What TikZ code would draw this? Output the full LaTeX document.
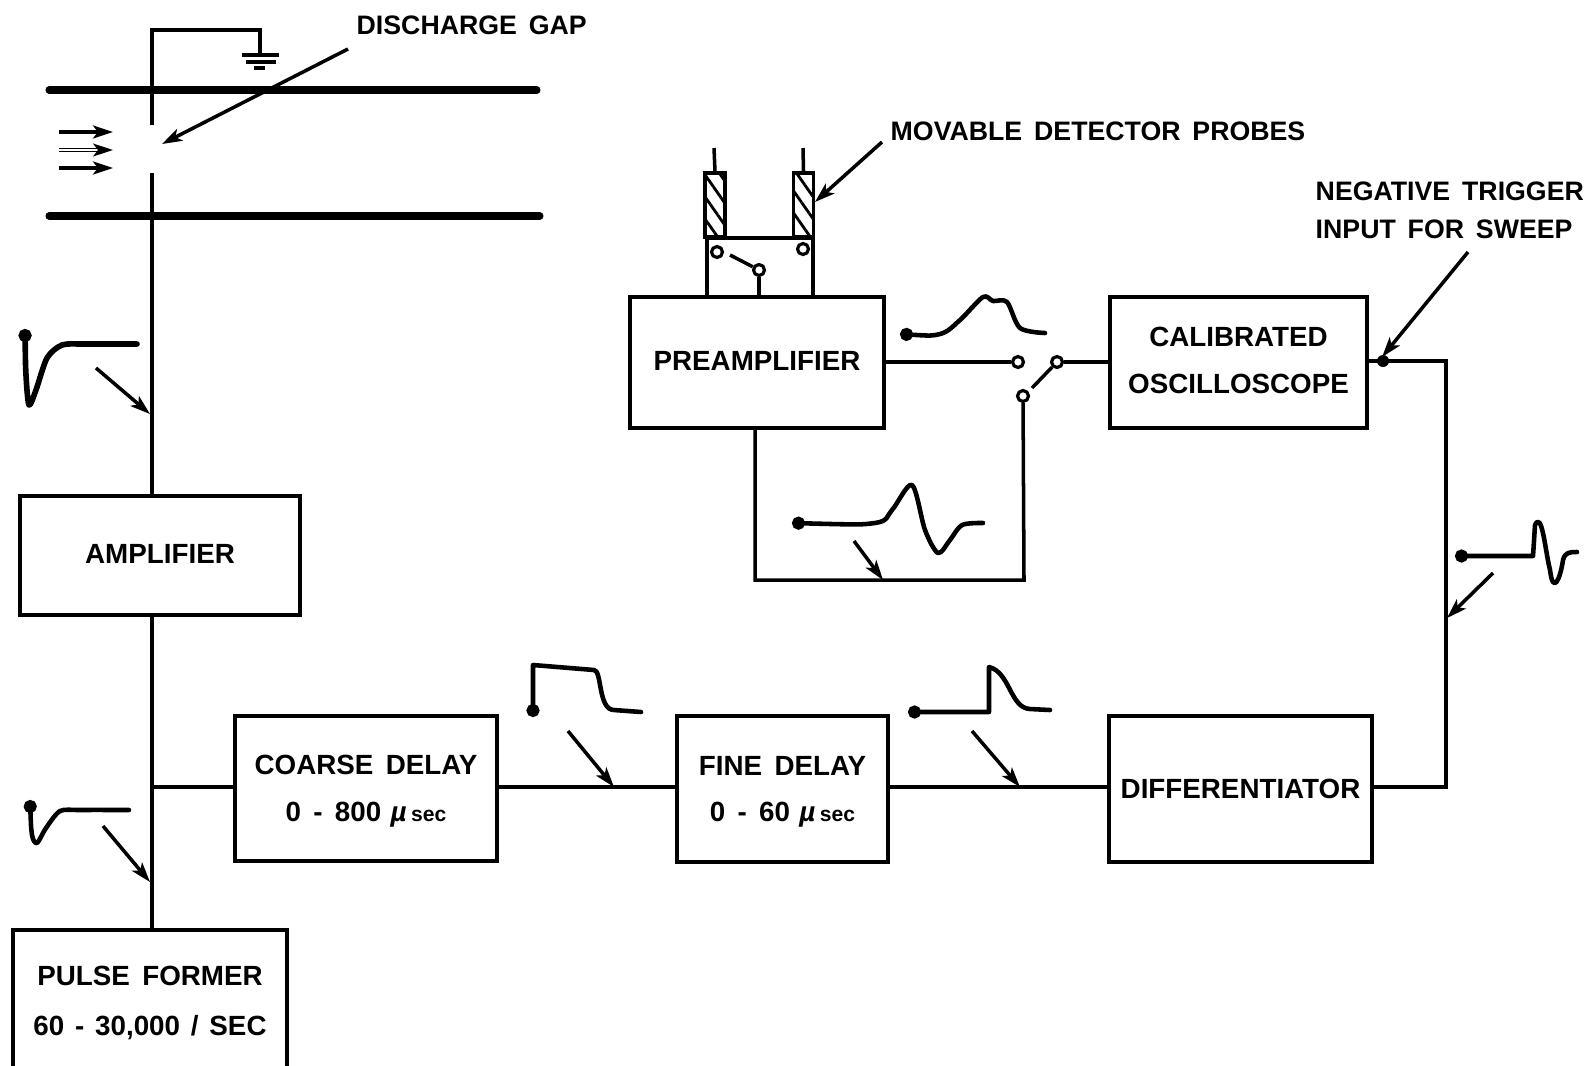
\documentclass[tikz,border=0pt]{standalone}
\usepackage{fontspec}
\setmainfont{Liberation Sans}[WordSpace=1.6]
\usetikzlibrary{arrows.meta,patterns.meta}
\newcommand{\labelfont}{\fontsize{7.9}{13.3}\selectfont\bfseries}
\newcommand{\notefont}{\fontsize{7.6}{10.9}\selectfont\bfseries}
\newcommand{\usec}{\,\,\textit{µ}\,{\fontsize{6}{6}\selectfont sec}}

\begin{document}
\begin{tikzpicture}[
        box/.style={
            draw,
            line width=1pt,
            align=center,
            text depth=.04cm,
            font=\labelfont
        },
        note/.style={
            anchor=west,
            inner sep=0pt,
            align=left,
            font=\notefont
        },
        terminal/.style={
            draw,
            circle,
            fill=white,
            line width=.9pt,
            minimum size=.11cm,
            inner sep=0pt
        },
        probe/.style={
            draw,
            line width=.9pt,
            minimum width=.2cm,
            minimum height=.64cm,
            inner sep=0pt,
            pattern={Lines[angle=-55,distance=3.6pt,line width=.8pt]}
        },
        junction/.style={
            circle,
            fill,
            minimum size=.12cm,
            inner sep=0pt
        },
        wire/.style={line width=1pt},
        beam/.style={line width=2pt, line cap=round},
        pointer/.style={line width=1pt, -{Stealth[length=.2cm,width=.13cm,inset=.05cm]}},
        wave/.style={line width=1.3pt, line cap=round, line join=round, {Circle[length=.13cm]}-}
    ]
        \path[use as bounding box, clip] (0,0) rectangle (15.91,-10.65);

        % Blocks
        \node[box, minimum width=2.54cm, minimum height=1.31cm] (pre) at (7.57,-3.625) {PREAMPLIFIER};
        \node[box, minimum width=2.57cm, minimum height=1.31cm] (scope) at (12.385,-3.625) {CALIBRATED\\OSCILLOSCOPE};
        \node[box, minimum width=2.8cm, minimum height=1.19cm] (amp) at (1.6,-5.555) {AMPLIFIER};
        \node[box, text depth=0pt, minimum width=2.62cm, minimum height=1.45cm] (coarse) at (3.66,-7.885) {COARSE DELAY\\0 - 800\usec};
        \node[box, text depth=0pt, minimum width=2.11cm, minimum height=1.46cm] (fine) at (7.825,-7.89) {FINE DELAY\\0 - 60\usec};
        \node[box, text depth=0pt, minimum width=2.61cm, minimum height=1.46cm] (diff) at (12.405,-7.89) {DIFFERENTIATOR};
        \node[box, minimum width=2.74cm, minimum height=1.46cm] (former) at (1.5,-10.03) {PULSE FORMER\\[1pt]60\hspace{.39em}-\hspace{.39em}30,000\hspace{.39em}/\hspace{.39em}SEC};

        % Labels
        \node[note] (gaplabel) at (3.56,-.25) {DISCHARGE GAP};
        \node[note] (probelabel) at (8.9,-1.31) {MOVABLE DETECTOR PROBES};
        \node[note] (triglabel) at (13.15,-2.1) {NEGATIVE TRIGGER\\INPUT FOR SWEEP};

        % Discharge tube
        \draw[beam] (.49,-.9) -- (5.37,-.9);
        \draw[beam] (.49,-2.16) -- (5.4,-2.16);
        \coordinate (gaptop) at (1.52,-1.25);
        \coordinate (gapbot) at (1.52,-1.73);
        \coordinate (groundtop) at (2.6,-.55);
        \draw[wire] (gaptop) -- (1.52,-.3) -- (2.6,-.3) -- (groundtop);
        \draw[wire] (gapbot) -- (gapbot |- amp.north);
        \draw[line width=1pt] (2.42,-.55) -- (2.79,-.55);
        \draw[line width=1.2pt] (2.46,-.62) -- (2.76,-.62);
        \draw[line width=1.2pt] (2.54,-.68) -- (2.65,-.68);
        \draw[pointer] (.59,-1.32) -- (1.13,-1.32);
        \draw[pointer, line width=.4pt, double, double distance=.5pt] (.59,-1.5) -- (1.13,-1.5);
        \draw[pointer] (.59,-1.68) -- (1.13,-1.68);

        % Left column
        \draw[wire] (1.52,-6.15) -- (1.52,-9.3);
        \coordinate (branch) at (1.52,-7.87);
        \draw[wire] (branch) -- (coarse.west |- branch);

        % Delay chain
        \draw[wire] (coarse.east |- branch) -- (fine.west |- branch);
        \draw[wire] (fine.east |- branch) -- (diff.west |- branch);

        % Trigger return
        \node[junction] (trig) at (13.83,-3.61) {};
        \coordinate (outup) at (14.46,-3.61);
        \coordinate (outlow) at (14.46,-7.87);
        \draw[wire] (scope.east |- trig) -- (trig.center) -- (outup) -- (outlow) -- (diff.east |- outlow);

        % Probes
        \node[probe] (probea) at (7.15,-2.05) {};
        \node[probe] (probeb) at (8.035,-2.05) {};
        \draw[wire] (7.14,-1.48) -- (probea.north);
        \draw[wire] (8.03,-1.48) -- (probeb.north);
        \draw[wire] (7.07,-2.38) -- (8.13,-2.38);
        \draw[wire] (7.07,-2.38) -- (7.07,-2.97);
        \draw[wire] (8.13,-2.38) -- (8.13,-2.97);
        \node[terminal] (ta) at (7.17,-2.52) {};
        \node[terminal] (tb) at (8.03,-2.49) {};
        \node[terminal] (tc) at (7.59,-2.7) {};
        \draw[wire] (7.3,-2.55) -- (tc);
        \draw[wire] (tc) -- (tc |- pre.north);

        % Output switch
        \node[terminal] (sa) at (10.18,-3.62) {};
        \node[terminal] (sb) at (10.57,-3.62) {};
        \node[terminal] (sc) at (10.23,-3.96) {};
        \draw[wire] (pre.east |- sa) -- (sa);
        \draw[wire] (sb) -- (scope.west |- sb);
        \draw[wire] (10.32,-3.88) -- (sb);
        \coordinate (loopa) at (10.24,-5.8);
        \coordinate (loopb) at (7.55,-5.8);
        \draw[wire] (sc) -- (loopa) -- (loopb) -- (loopb |- pre.south);

        % Pointers
        \coordinate (gaptip) at (1.62,-1.44);
        \coordinate (probetip) at (8.15,-2.02);
        \coordinate (trigtip) at (13.82,-3.57);
        \draw[pointer] (3.48,-.49) -- (gaptip);
        \draw[pointer] (8.82,-1.42) -- (probetip);
        \draw[pointer] (14.68,-2.52) -- (trigtip);
        \draw[pointer] (.96,-3.68) -- (1.5,-4.14);
        \draw[pointer] (1.03,-8.26) -- (1.5,-8.82);
        \draw[pointer] (5.68,-7.31) -- (6.14,-7.87);
        \draw[pointer] (9.72,-7.31) -- (10.2,-7.87);
        \draw[pointer] (8.54,-5.41) -- (8.83,-5.8);
        \draw[pointer] (14.93,-5.73) -- (14.47,-6.18);

        % Waveforms
        \draw[wave, line width=1.6pt] plot[smooth, tension=.45] coordinates {(.25,-3.29) (.26,-3.75) (.29,-4.05) (.36,-3.9) (.47,-3.58) (.62,-3.45) (.85,-3.44) (1.37,-3.44)};
        \draw[wave] plot[smooth, tension=.45] coordinates {(.3,-8) (.32,-8.35) (.37,-8.43) (.46,-8.28) (.6,-8.11) (.8,-8.1) (1.29,-8.1)};
        \draw[wave] (5.33,-7.17) -- (5.33,-6.65) -- (5.94,-6.7) .. controls (6.02,-6.7) and (5.98,-7.1) .. (6.14,-7.1) -- (6.41,-7.12);
        \draw[wave] (9.08,-7.12) -- (9.89,-7.12) -- (9.89,-6.67) .. controls (10.1,-6.72) and (10.1,-7.08) .. (10.3,-7.09) -- (10.5,-7.1);
        \draw[wave] plot[smooth, tension=.5] coordinates {(9,-3.34) (9.4,-3.34) (9.6,-3.2) (9.83,-2.97) (9.93,-3.01) (10.07,-3.02) (10.2,-3.28) (10.45,-3.33)};
        \draw[wave] plot[smooth, tension=.5] coordinates {(7.92,-5.23) (8.75,-5.23) (8.92,-5.1) (9.12,-4.85) (9.25,-5.3) (9.38,-5.53) (9.5,-5.4) (9.62,-5.25) (9.83,-5.23)};
        \draw[wave] (14.55,-5.56) -- (15.33,-5.56) -- (15.35,-5.25) .. controls (15.42,-5.1) and (15.45,-5.5) .. (15.5,-5.7) .. controls (15.53,-5.95) and (15.6,-5.8) .. (15.63,-5.6) .. controls (15.65,-5.52) and (15.7,-5.52) .. (15.77,-5.52);
    \end{tikzpicture}
\end{document}
